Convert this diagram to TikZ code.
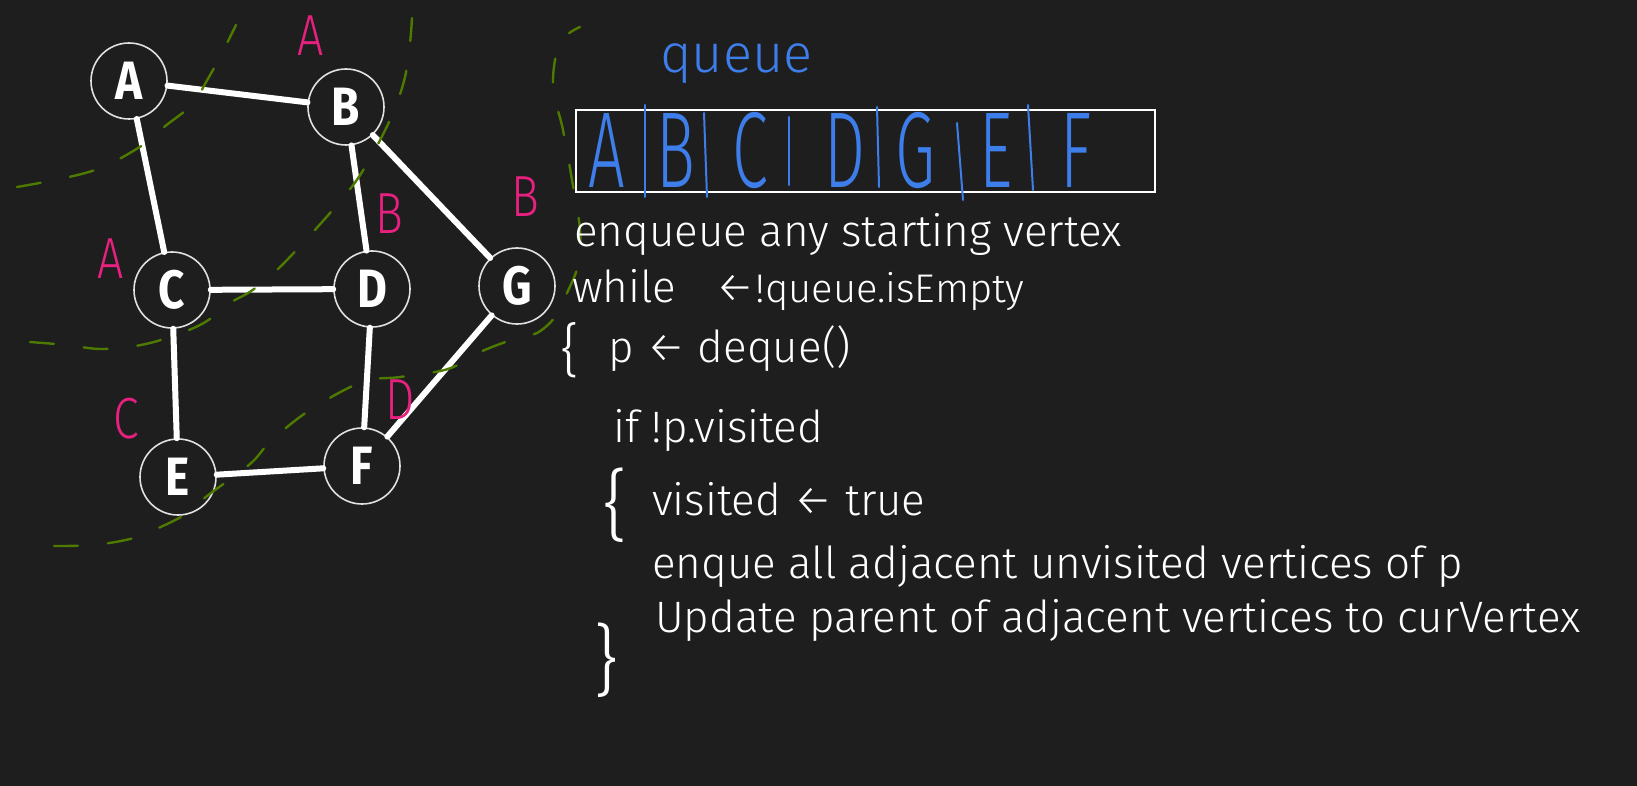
\documentclass[tikz,border=0pt]{standalone}
\usepackage{fontspec}
\setmainfont{Fira Sans Light}
\newfontfamily\vtxfont[FakeStretch=0.85]{Fira Sans Bold}
\newfontfamily\qfont[FakeStretch=0.6]{Fira Sans Light}
\newfontfamily\lblfont[FakeStretch=0.8]{Fira Sans Light}
\definecolor{bgDark}{RGB}{30,30,30}
\definecolor{mPink}{RGB}{232,32,128}
\definecolor{mBlue}{RGB}{62,126,234}
\definecolor{mGreen}{RGB}{78,122,0}
\definecolor{ringGrey}{RGB}{225,225,225}
\usetikzlibrary{positioning}

\tikzset{
  vertex/.style={circle, draw=ringGrey, line width=1.6pt, fill=bgDark, minimum size=76pt,
    inner sep=0pt, text=white, font=\vtxfont\fontsize{54}{54}\selectfont},
  edge/.style={white, line width=6pt, line cap=round},
  lvl/.style={mPink, inner sep=0pt, font=\lblfont\fontsize{58}{58}\selectfont},
  levelcut/.style={mGreen, line width=2.4pt, line cap=round, dash pattern=on 24pt off 30pt},
  code/.style={white, anchor=base west, inner sep=0pt, font=\fontsize{44}{44}\selectfont},
  qltr/.style={mBlue, anchor=base, inner sep=0pt, font=\qfont\fontsize{108}{108}\selectfont},
  qsep/.style={mBlue, line width=2pt, line cap=round},
}

\begin{document}
\begin{tikzpicture}[x=1pt, y=-1pt]
    % background, fixes the page
    \fill[bgDark] (0,0) rectangle (1637,786);
    \useasboundingbox (0,0) rectangle (1637,786);

    % graph vertices
    \node[vertex] (a) at (129,81)  {A};
    \node[vertex] (b) at (346,107) {B};
    \node[vertex] (c) at (172,290) {C};
    \node[vertex] (d) at (372,289) {D};
    \node[vertex] (g) at (517,286) {G};
    \node[vertex] (e) at (178,477) {E};
    \node[vertex] (f) at (362,466) {F};

    % edges
    \draw[edge] (a) -- (b);
    \draw[edge] (a) -- (c);
    \draw[edge] (b) -- (d);
    \draw[edge] (b) -- (g);
    \draw[edge] (c) -- (d);
    \draw[edge] (c) -- (e);
    \draw[edge] (d) -- (f);
    \draw[edge] (e) -- (f);
    \draw[edge] (f) -- (g);

    % parent of each vertex
    \node[lvl] (pb) at (311,36)  {A};
    \node[lvl] (pc) at (111,259) {A};
    \node[lvl] (pd) at (389,214) {B};
    \node[lvl] (pg) at (525,197) {B};
    \node[lvl] (pe) at (126,419) {C};
    \node[lvl] (pf) at (400,400) {D};

    % level boundaries
    \draw[levelcut] plot[smooth, tension=0.6] coordinates {(17,187) (92,171) (143,145) (164,127)
      (193,104) (205,84) (220,57) (236,25)};
    \draw[levelcut] plot[smooth, tension=0.6] coordinates {(30,342) (67,345) (104,349) (150,343)
      (200,325) (230,303) (254,289) (287,260) (347,193) (373,153) (393,113) (405,77) (410,43) (412,18)};
    \draw[levelcut] plot[smooth, tension=0.6] coordinates {(54,546) (93,545) (130,539) (154,530)
      (186,514) (207,496) (250,464) (271,441) (310,410) (362,382) (400,377) (448,369) (480,352)
      (517,338) (537,333) (555,317) (567,293) (578,265) (580,230) (572,180) (563,130) (553,85)
      (560,43) (580,27)};

    % the queue
    \node[mBlue, anchor=base west, inner sep=0pt, font=\fontsize{54}{54}\selectfont] (qtitle) at (660,73) {queue};
    \node[draw=white, line width=2pt, anchor=north west, minimum width=579pt, minimum height=82pt] (qbox) at (575,109) {};
    \foreach \ltr/\x in {A/607, B/676, C/750, D/845, G/916, E/996, F/1076}
      \node[qltr] (q\ltr) at (\x,188) {\ltr};
    \foreach \xa/\ya/\xb/\yb in {645/105/645/197, 704/113/707/197, 789/117/789/185,
      877/107/879/187, 957/123/963/200, 1028/105/1033/190}
      \draw[qsep] (\xa,\ya) -- (\xb,\yb);

    % pseudo code
    \node[code] (l1) at (574,247) {enqueue any starting vertex};
    \node[code] (l2) at (572,302) {while\hspace{0.9em}←{\fontsize{40}{40}\selectfont!queue.isEmpty}};
    \node[white, inner sep=0pt, font=\fontsize{58}{58}\selectfont] (br1) at (570,350) {\{};
    \node[code] (l3) at (608,362) {p ← deque()};
    \node[code] (l4) at (613,442) {if !p.visited};
    \node[white, inner sep=0pt, font=\fontsize{78}{78}\selectfont] (br2) at (615,505) {\{};
    \node[code] (l5) at (652,515) {visited ← true};
    \node[code] (l6) at (652,578) {enque all adjacent unvisited vertices of p};
    \node[code] (l7) at (655,632) {Update parent of adjacent vertices to curVertex};
    \node[white, inner sep=0pt, font=\fontsize{78}{78}\selectfont] (br3) at (606,660) {\}};
\end{tikzpicture}
\end{document}
